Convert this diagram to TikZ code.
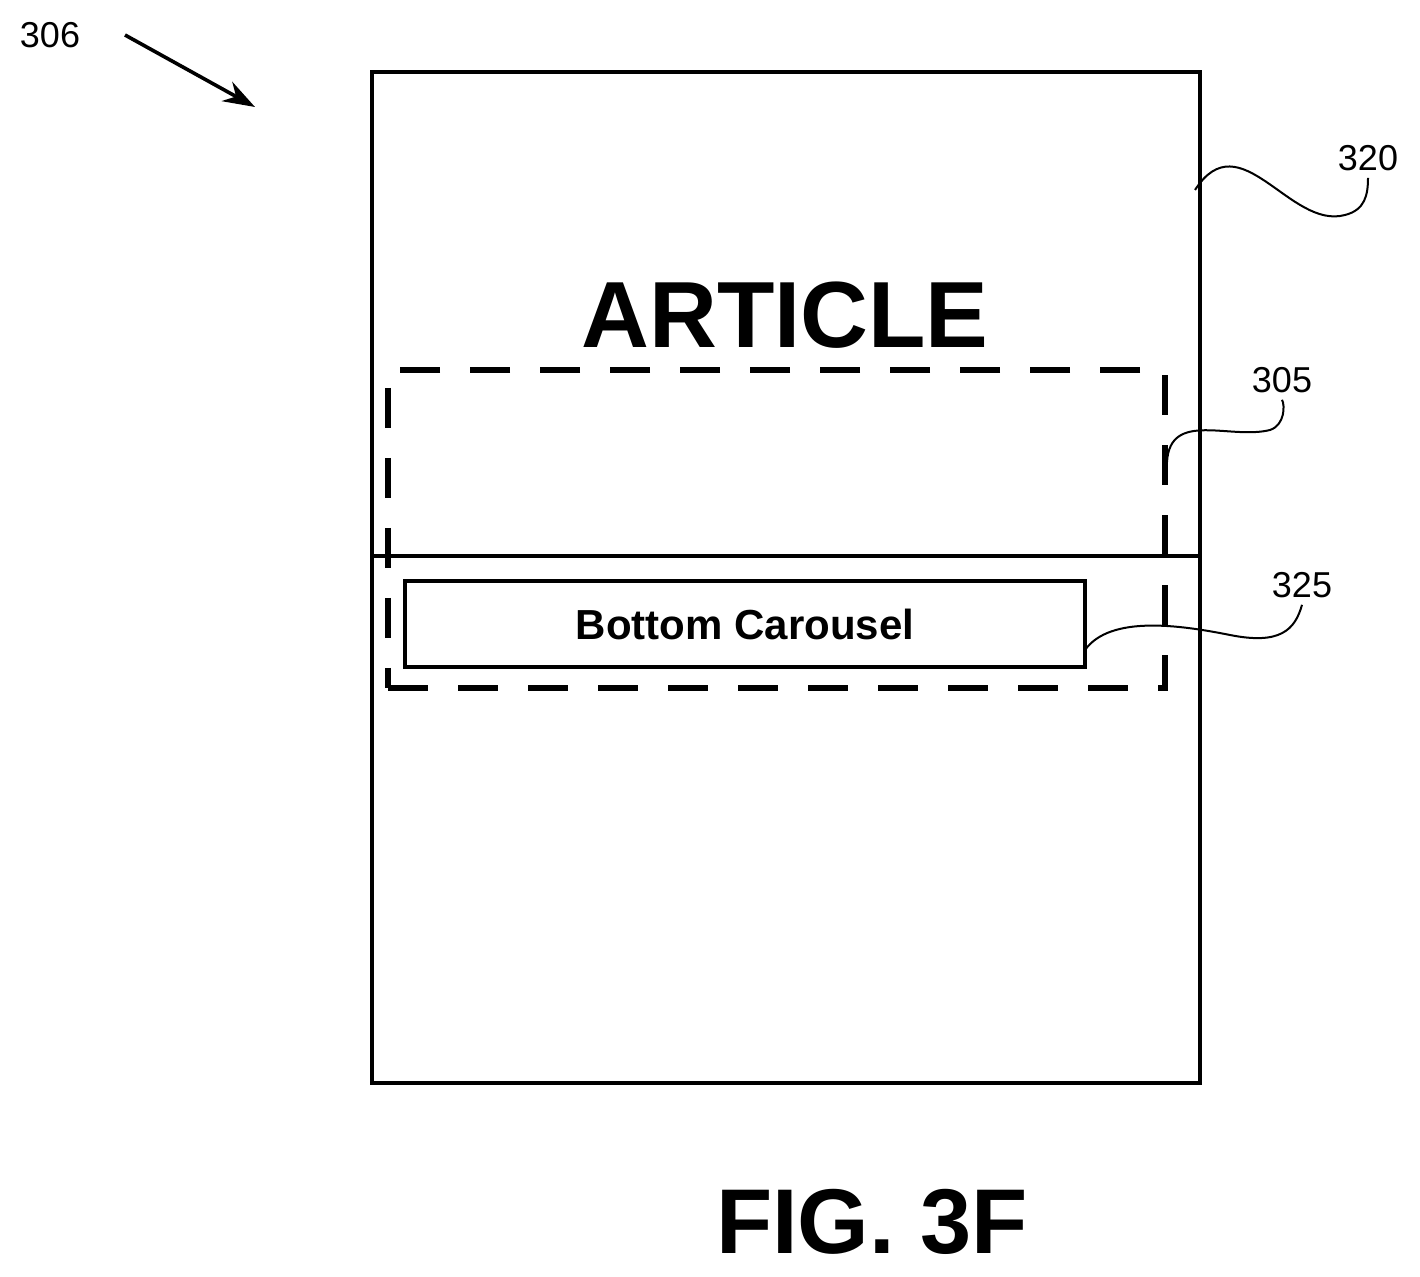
\documentclass[tikz,border=0pt]{standalone}
\usepackage{fontspec}
\setmainfont{Liberation Sans}
\usetikzlibrary{arrows.meta}

\begin{document}
\begin{tikzpicture}[x=0.5pt,y=-0.5pt,
    frame/.style={draw=black,line width=2pt},
    region/.style={draw=black,line width=3pt,dash pattern=on 20pt off 15pt},
    lead/.style={draw=black,line width=1pt},
    ref/.style={font=\fontsize{18}{21}\selectfont}]
\useasboundingbox (0,0) rectangle (1420,1277);

\begin{scope}
    \node[frame,minimum width=414pt,minimum height=505.5pt,inner sep=0pt] (page) at (786,577.5) {};
    \coordinate (sl) at (372,556);
    \coordinate (sr) at (1200,556);
    \node[region,minimum width=388.5pt,minimum height=159pt,inner sep=0pt] (zone) at (776.5,529) {};
    \node[frame,line width=1.8pt,minimum width=340pt,minimum height=43pt,inner sep=0pt,
          font=\bfseries\fontsize{21}{24}\selectfont] (carousel) at (745,624) {Bottom Carousel};
    \node[font=\bfseries\fontsize{47}{50}\selectfont] (article) at (785,315) {ARTICLE};
    \node[font=\bfseries\fontsize{46}{50}\selectfont] (fig) at (872,1222) {FIG. 3F};
\end{scope}

\draw[frame] (sl) -- (sr);

\begin{scope}[every node/.style={ref}]
    \node (n306) at (50,35) {306};
    \node (n320) at (1368,158) {320};
    \node (n305) at (1282,380) {305};
    \node (n325) at (1302,585) {325};
\end{scope}

\coordinate (a306) at (125,35);
\coordinate (b306) at (255,107);
\draw[lead,line width=1.8pt,-{Stealth[length=16pt,width=11pt]}] (a306) -- (b306);

\coordinate (t320) at (1195,190);
\coordinate (t305) at (1167,462);
\coordinate (t325) at (1085,650);
\draw[lead] (t320) .. controls (1240,120) and (1290,230) .. (1345,215) .. controls (1365,210) and (1368,195) .. (n320.south);
\draw[lead] (t305) .. controls (1170,410) and (1230,440) .. (1270,430) .. controls (1285,425) and (1285,405) .. (n305.south);
\draw[lead] (t325) .. controls (1110,615) and (1180,625) .. (1230,635) .. controls (1280,645) and (1295,630) .. (n325.south);
\end{tikzpicture}
\end{document}
